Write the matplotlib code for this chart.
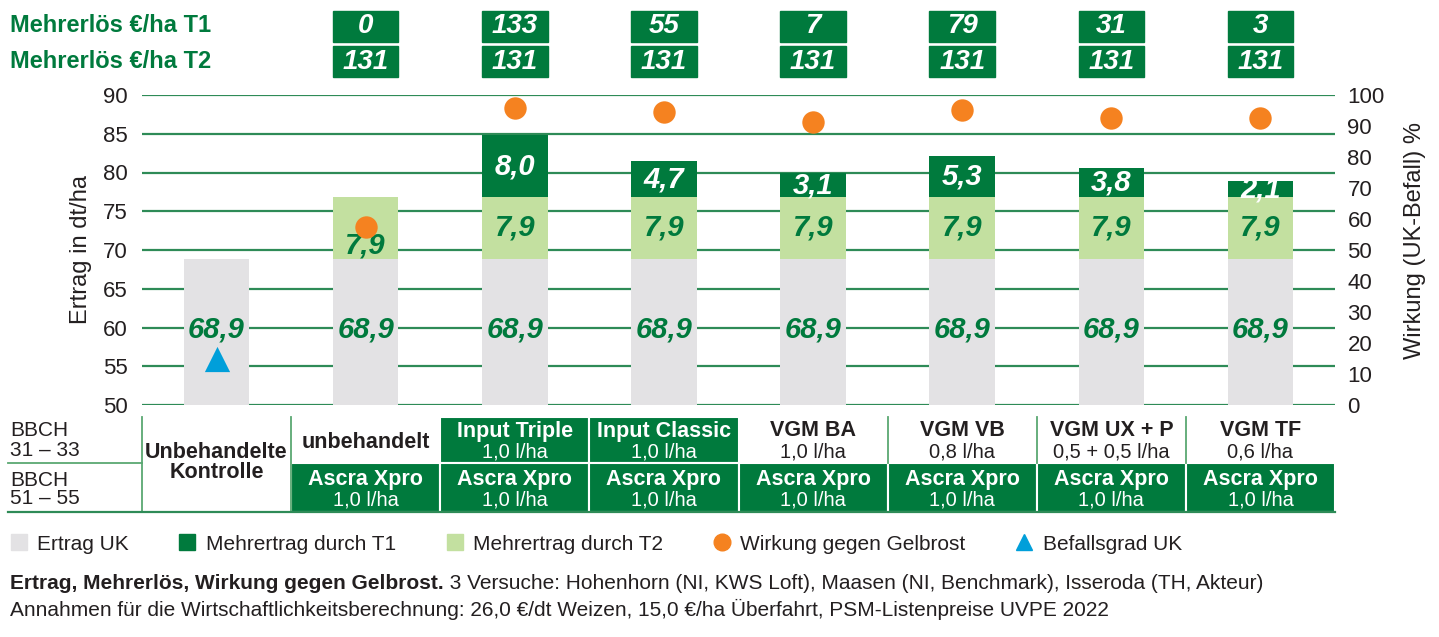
import numpy as np
import matplotlib
matplotlib.use('Agg')
import matplotlib.pyplot as plt
from matplotlib.patches import Rectangle
from matplotlib.lines import Line2D

plt.rcParams['font.family'] = ['Liberation Sans', 'DejaVu Sans']

# data
t1_products = [None, 'unbehandelt', 'Input Triple', 'Input Classic', 'VGM BA', 'VGM VB', 'VGM UX + P', 'VGM TF']
t1_doses = [None, None, '1,0 l/ha', '1,0 l/ha', '1,0 l/ha', '0,8 l/ha', '0,5 + 0,5 l/ha', '0,6 l/ha']
t2_product = 'Ascra Xpro'
t2_dose = '1,0 l/ha'
ertrag_uk = [68.9, 68.9, 68.9, 68.9, 68.9, 68.9, 68.9, 68.9]
mehr_t2 = [0, 7.9, 7.9, 7.9, 7.9, 7.9, 7.9, 7.9]
mehr_t1 = [0, 0, 8.0, 4.7, 3.1, 5.3, 3.8, 2.1]
erloes_t1 = [None, 0, 133, 55, 7, 79, 31, 3]
erloes_t2 = [None, 131, 131, 131, 131, 131, 131, 131]
wirkung = [None, 57.5, 95.8, 94.5, 91.3, 95.2, 92.6, 92.6]
befall_uk = 15

DARK = '#007a3d'
LIGHT = '#c3e0a0'
GREY = '#e3e2e4'
ORANGE = '#f58220'
BLUE = '#009fda'
GRID = '#2e8b57'
SEP = '#5aa872'
TXT = '#231f20'

W, H = 1439, 637
fig = plt.figure(figsize=(W / 100, H / 100), dpi=100)
ax = fig.add_axes([142 / W, 1 - 405 / H, (1335 - 142) / W, (405 - 95) / H])

x = np.arange(len(ertrag_uk))
bw = 0.44
uk = np.array(ertrag_uk)
t2 = np.array(mehr_t2)
t1 = np.array(mehr_t1)
ax.bar(x, uk, bw, color=GREY, zorder=2)
ax.bar(x, t2, bw, bottom=uk, color=LIGHT, zorder=2)
ax.bar(x, t1, bw, bottom=uk + t2, color=DARK, zorder=2)

ax.set_xlim(-0.5, 7.5)
ax.set_ylim(50, 90)
ax.set_yticks(range(50, 91, 5))
ax.set_xticks([])
ax.yaxis.grid(True, color=GRID, lw=1.6, zorder=0)
ax.set_axisbelow(True)
for s in ax.spines.values():
    s.set_visible(False)
ax.tick_params(axis='y', length=0, pad=10, labelsize=16, labelcolor=TXT)
ax.set_ylabel('Ertrag in dt/ha', fontsize=17, color=TXT, labelpad=8)

# value labels
lab = dict(ha='center', va='center', fontsize=21, weight='bold', style='italic')
for i in x:
    ax.text(i, 59.8, f'{uk[i]:.1f}'.replace('.', ','), color=DARK, **lab)
    if t2[i] > 0:
        yy = uk[i] + t2[i] / 2 - (2.3 if t1[i] == 0 else 0)
        ax.text(i, yy, f'{t2[i]:.1f}'.replace('.', ','), color=DARK, **lab)
    if t1[i] > 0:
        ax.text(i, uk[i] + t2[i] + t1[i] / 2, f'{t1[i]:.1f}'.replace('.', ','),
                color='white', **lab)

# right axis
ax2 = ax.twinx()
ax2.set_ylim(0, 100)
ax2.set_yticks(range(0, 101, 10))
ax2.set_yticks([20, 40, 60, 80], minor=True)
ax2.tick_params(axis='y', which='major', length=0, pad=9, labelsize=16, labelcolor=TXT)
ax2.tick_params(axis='y', which='minor', length=5, width=1.5, direction='in', color=GRID)
for s in ax2.spines.values():
    s.set_visible(False)
ax2.set_ylabel('Wirkung (UK-Befall) %', fontsize=17, color=TXT)
ax2.yaxis.set_label_coords(1.058, 0.53)
ax2.scatter(x[1:], wirkung[1:], s=260, color=ORANGE, zorder=5, linewidths=0)
ax2.scatter([0], [befall_uk], s=330, marker='^', color=BLUE, zorder=5, linewidths=0)

# Mehrerlös boxes above the plot
tr = ax.get_xaxis_transform()
box = dict(ha='center', va='center', fontsize=20, weight='bold', style='italic', color='white')
for i in x:
    if erloes_t1[i] is None:
        continue
    for (y0, val) in [(1.171, erloes_t1[i]), (1.058, erloes_t2[i])]:
        ax.add_patch(Rectangle((i - bw / 2, y0), bw, 0.1, transform=tr,
                               color=DARK, clip_on=False))
        ax.text(i, y0 + 0.05, str(val), transform=tr, clip_on=False, **box)
hdr = dict(fontsize=17, weight='bold', color=DARK, va='center', ha='left')
fig.text(10 / W, 1 - 25 / H, 'Mehrerlös €/ha T1', **hdr)
fig.text(10 / W, 1 - 61 / H, 'Mehrerlös €/ha T2', **hdr)

# treatment table below the plot
r1_top, r1_bot, r2_bot = -12 / 310, -58 / 310, -107 / 310
tb = dict(ha='center', va='center', clip_on=False, transform=tr)
fb, fr = 15.5, 14.5
for i in x[1:]:
    green1 = t1_doses[i] is not None and t1_products[i].startswith('Input')
    c1 = 'white' if green1 else TXT
    if green1:
        ax.add_patch(Rectangle((i - 0.5, r1_bot), 1, r1_top - r1_bot, transform=tr,
                               facecolor=DARK, edgecolor='white', lw=1.5, clip_on=False))
    if t1_doses[i] is None:
        ax.text(i, -37 / 310, t1_products[i], weight='bold', color=c1, fontsize=fb, **tb)
    else:
        ax.text(i, -26 / 310, t1_products[i], weight='bold', color=c1, fontsize=fb, **tb)
        ax.text(i, -47 / 310, t1_doses[i], color=c1, fontsize=fr, **tb)
    ax.add_patch(Rectangle((i - 0.5, r2_bot), 1, r1_bot - r2_bot, transform=tr,
                           facecolor=DARK, edgecolor='white', lw=1.5, clip_on=False))
    ax.text(i, -75 / 310, t2_product, weight='bold', color='white', fontsize=fb, **tb)
    ax.text(i, -95 / 310, t2_dose, color='white', fontsize=fr, **tb)
ax.text(0, -47 / 310, 'Unbehandelte', weight='bold', color=TXT, fontsize=fb, **tb)
ax.text(0, -67 / 310, 'Kontrolle', weight='bold', color=TXT, fontsize=fb, **tb)

sep = dict(color=SEP, lw=1.3, clip_on=False, transform=tr)
for xb in [-0.5, 0.5]:
    ax.plot([xb, xb], [r1_top, r2_bot], **sep)
for xb in [4.5, 5.5, 6.5]:
    ax.plot([xb, xb], [r1_top, r1_bot], **sep)
fig.add_artist(Line2D([8 / W, 142 / W], [1 - 463 / H] * 2, color=SEP, lw=1.3))
fig.add_artist(Line2D([8 / W, 1335 / W], [1 - 512 / H] * 2, color=GRID, lw=1.6))

bb = dict(fontsize=15, color=TXT, ha='left', va='center')
fig.text(10 / W, 1 - 431 / H, 'BBCH', **bb)
fig.text(10 / W, 1 - 450 / H, '31 – 33', **bb)
fig.text(10 / W, 1 - 480 / H, 'BBCH', **bb)
fig.text(10 / W, 1 - 499 / H, '51 – 55', **bb)

# legend
handles = [
    Line2D([], [], marker='s', ls='', color=GREY, ms=11),
    Line2D([], [], marker='s', ls='', color=DARK, ms=11),
    Line2D([], [], marker='s', ls='', color=LIGHT, ms=11),
    Line2D([], [], marker='o', ls='', color=ORANGE, ms=12),
    Line2D([], [], marker='^', ls='', color=BLUE, ms=12),
]
labels = ['Ertrag UK', 'Mehrertrag durch T1', 'Mehrertrag durch T2',
          'Wirkung gegen Gelbrost', 'Befallsgrad UK']
fig.legend(handles, labels, loc='center left', bbox_to_anchor=(6 / W, 1 - 544 / H),
           ncol=5, frameon=False, fontsize=15, handletextpad=0.3, columnspacing=2.2,
           handlelength=1.2, borderaxespad=0, borderpad=0, labelcolor=TXT)

# caption
cap = dict(fontsize=15, color=TXT, ha='left', va='baseline')
c1 = fig.text(10 / W, 1 - 589 / H, 'Ertrag, Mehrerlös, Wirkung gegen Gelbrost.', weight='bold', **cap)
fig.canvas.draw()
ext = c1.get_window_extent()
fig.text(ext.x1 / W, 1 - 589 / H,
         ' 3 Versuche: Hohenhorn (NI, KWS Loft), Maasen (NI, Benchmark), Isseroda (TH, Akteur)', **cap)
fig.text(10 / W, 1 - 616 / H,
         'Annahmen für die Wirtschaftlichkeitsberechnung: 26,0 €/dt Weizen, 15,0 €/ha Überfahrt, '
         'PSM-Listenpreise UVPE 2022', **cap)

fig.savefig('out.png', dpi=100)
